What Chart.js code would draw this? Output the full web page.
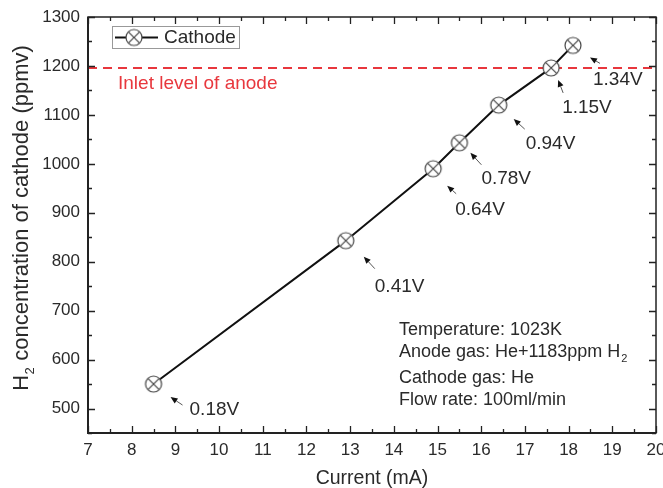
<!DOCTYPE html>
<html><head><meta charset="utf-8">
<script src="https://cdn.jsdelivr.net/npm/chart.js@4/dist/chart.umd.min.js"></script>
<style>html,body{margin:0;padding:0;background:#fff}canvas{display:block}</style>
</head><body>
<canvas id="c" width="663" height="488"></canvas>
<script>
// ---- data ----
const currents = [8.5, 12.9, 14.9, 15.5, 16.4, 17.6, 18.1];
const concentrations = [550, 843, 990, 1043, 1120, 1196, 1242];
const voltageLabels = ['0.18V', '0.41V', '0.64V', '0.78V', '0.94V', '1.15V', '1.34V'];
const xTicks = [7, 8, 9, 10, 11, 12, 13, 14, 15, 16, 17, 18, 19, 20];
const yTicks = [500, 600, 700, 800, 900, 1000, 1100, 1200, 1300];
const inletLevel = 1196;
const seriesName = 'Cathode';
const inletText = 'Inlet level of anode';
const xTitle = 'Current (mA)';
const yTitleMain = 'H';
const yTitleSub = '2';
const yTitleRest = ' concentration of cathode (ppmv)';
const infoLines = [
  ['Temperature: 1023K', ''],
  ['Anode gas: He+1183ppm H', '2'],
  ['Cathode gas: He', ''],
  ['Flow rate: 100ml/min', '']
];

// ---- annotation layout (pixel offsets from each marker) ----
const arrowLayout = [
  {tip:[17,13], tail:[29,21], text:[36,26]},
  {tip:[18,16], tail:[29,28], text:[29,46]},
  {tip:[14,17], tail:[23,25], text:[22,41]},
  {tip:[11,10], tail:[22,22], text:[22,36]},
  {tip:[15,14], tail:[26,24], text:[27,39]},
  {tip:[7,12],  tail:[12,25], text:[11,40]},
  {tip:[17,12], tail:[27,18], text:[20,34]}
];

const FONT = "'Liberation Sans', Arial, Helvetica, sans-serif";
const TXT = '#2a2a2a';
const RED = '#e8373d';

// marker: circle with an X
function makeMarker() {
  const c = document.createElement('canvas');
  c.width = 20; c.height = 20;
  const g = c.getContext('2d');
  const r = 8, cx = 10, cy = 10, d = r * Math.SQRT1_2;
  g.fillStyle = '#fff';
  g.beginPath(); g.arc(cx, cy, r, 0, Math.PI * 2); g.fill();
  g.strokeStyle = '#444'; g.lineWidth = 1.2;
  g.beginPath(); g.arc(cx, cy, r, 0, Math.PI * 2); g.stroke();
  g.beginPath();
  g.moveTo(cx - d, cy - d); g.lineTo(cx + d, cy + d);
  g.moveTo(cx + d, cy - d); g.lineTo(cx - d, cy + d);
  g.stroke();
  return c;
}
const marker = makeMarker();

const decorPlugin = {
  id: 'decor',
  beforeDatasetsDraw(chart) {
    const {ctx, chartArea: a, scales: {y}} = chart;
    const yy = y.getPixelForValue(inletLevel);
    ctx.save();
    ctx.strokeStyle = RED; ctx.lineWidth = 2; ctx.setLineDash([9, 6]);
    ctx.beginPath(); ctx.moveTo(a.left, yy); ctx.lineTo(a.right, yy); ctx.stroke();
    ctx.restore();
  },
  afterDatasetsDraw(chart) {
    const {ctx, chartArea: a, scales: {x, y}} = chart;
    ctx.save();
    // frame
    ctx.strokeStyle = '#222';
    ctx.lineWidth = 1.5;
    ctx.strokeRect(a.left, a.top, a.right - a.left, a.bottom - a.top);
    ctx.lineWidth = 2;
    ctx.beginPath();
    ctx.moveTo(a.left, a.top); ctx.lineTo(a.left, a.bottom); ctx.lineTo(a.right, a.bottom);
    ctx.stroke();
    // ticks (inward, all four sides)
    ctx.lineWidth = 1.3;
    ctx.beginPath();
    for (let v = xTicks[0]; v <= xTicks[xTicks.length - 1] + 1e-9; v += 0.5) {
      const px = Math.round(x.getPixelForValue(v)) + 0.5;
      const major = Math.abs(v - Math.round(v)) < 1e-9;
      const L = major ? 7 : 4;
      ctx.moveTo(px, a.bottom); ctx.lineTo(px, a.bottom - L);
      ctx.moveTo(px, a.top); ctx.lineTo(px, a.top + L);
    }
    for (let v = 450; v <= 1300; v += 50) {
      const py = Math.round(y.getPixelForValue(v)) + 0.5;
      const major = v % 100 === 0;
      const L = major ? 7 : 4;
      ctx.moveTo(a.left, py); ctx.lineTo(a.left + L, py);
      ctx.moveTo(a.right, py); ctx.lineTo(a.right - L, py);
    }
    ctx.stroke();

    // voltage annotations with arrows
    ctx.font = '19px ' + FONT;
    ctx.textBaseline = 'middle';
    ctx.textAlign = 'left';
    currents.forEach((cv, i) => {
      const mx = x.getPixelForValue(cv), my = y.getPixelForValue(concentrations[i]);
      const L = arrowLayout[i];
      const tx = mx + L.tip[0], ty = my + L.tip[1];
      const sx = mx + L.tail[0], sy = my + L.tail[1];
      const ang = Math.atan2(ty - sy, tx - sx);
      const hl = 7, hw = 3;
      const bx = tx - hl * Math.cos(ang), by = ty - hl * Math.sin(ang);
      ctx.strokeStyle = '#555'; ctx.lineWidth = 1;
      ctx.beginPath(); ctx.moveTo(sx, sy); ctx.lineTo(bx, by); ctx.stroke();
      ctx.fillStyle = '#111';
      ctx.beginPath();
      ctx.moveTo(tx, ty);
      ctx.lineTo(bx + hw * Math.sin(ang), by - hw * Math.cos(ang));
      ctx.lineTo(bx - hw * Math.sin(ang), by + hw * Math.cos(ang));
      ctx.closePath(); ctx.fill();
      ctx.fillStyle = TXT;
      ctx.fillText(voltageLabels[i], mx + L.text[0], my + L.text[1]);
    });

    // inlet text
    ctx.fillStyle = RED;
    ctx.font = '19px ' + FONT;
    ctx.fillText(inletText, a.left + 30, y.getPixelForValue(inletLevel) + 16);

    // legend box
    const lx = a.left + 24, ly = a.top + 9, lw = 127, lh = 22;
    ctx.strokeStyle = '#999'; ctx.lineWidth = 1;
    ctx.fillStyle = '#fff';
    ctx.fillRect(lx, ly, lw, lh);
    ctx.strokeRect(lx + 0.5, ly + 0.5, lw, lh);
    const cy = ly + lh / 2 + 0.5;
    ctx.strokeStyle = '#111'; ctx.lineWidth = 2;
    ctx.beginPath(); ctx.moveTo(lx + 3, cy); ctx.lineTo(lx + 46, cy); ctx.stroke();
    ctx.drawImage(marker, lx + 22 - 10, cy - 10);
    ctx.fillStyle = TXT;
    ctx.font = '19px ' + FONT;
    ctx.fillText(seriesName, lx + 52, cy);

    // info block
    const infoY = [330, 352, 378, 400];
    infoLines.forEach((ln, i) => {
      ctx.font = '18px ' + FONT;
      ctx.fillText(ln[0], 399, infoY[i]);
      if (ln[1]) {
        const w = ctx.measureText(ln[0]).width;
        ctx.font = '11px ' + FONT;
        ctx.fillText(ln[1], 399 + w + 1, infoY[i] + 7);
      }
    });

    // x title
    ctx.font = '19.5px ' + FONT;
    ctx.textAlign = 'center';
    ctx.fillText(xTitle, (a.left + a.right) / 2, 479);

    // y title (rotated, with subscript)
    ctx.textAlign = 'left';
    const big = '22px ' + FONT, small = '13px ' + FONT;
    ctx.font = big; const w1 = ctx.measureText(yTitleMain).width;
    const w3 = ctx.measureText(yTitleRest).width;
    ctx.font = small; const w2 = ctx.measureText(yTitleSub).width;
    const total = w1 + w2 + 1 + w3;
    ctx.translate(22, 218);
    ctx.rotate(-Math.PI / 2);
    const sx0 = -total / 2;
    ctx.font = big; ctx.fillText(yTitleMain, sx0, 0);
    ctx.font = small; ctx.fillText(yTitleSub, sx0 + w1 + 0.5, 8);
    ctx.font = big; ctx.fillText(yTitleRest, sx0 + w1 + w2 + 1, 0);
    ctx.restore();
  }
};

new Chart(document.getElementById('c'), {
  type: 'line',
  data: {
    datasets: [{
      label: seriesName,
      data: currents.map((cv, i) => ({x: cv, y: concentrations[i]})),
      borderColor: '#111',
      borderWidth: 2,
      pointStyle: marker,
      pointRadius: 8,
      tension: 0,
      fill: false
    }]
  },
  options: {
    responsive: false,
    animation: false,
    layout: {autoPadding: false, padding: {left: 0, right: 7, top: 17, bottom: 0}},
    plugins: {legend: {display: false}, tooltip: {enabled: false}},
    scales: {
      x: {
        type: 'linear', min: xTicks[0], max: xTicks[xTicks.length - 1],
        afterFit: s => { s.height = 55; s.paddingLeft = 0; s.paddingRight = 0; },
        afterBuildTicks: s => { s.ticks = xTicks.map(v => ({value: v})); },
        grid: {display: false, drawTicks: false},
        border: {display: false},
        ticks: {color: TXT, font: {size: 17, family: FONT}, padding: 7, maxRotation: 0, autoSkip: false,
                callback: v => String(v)}
      },
      y: {
        type: 'linear', min: 450, max: 1300,
        afterFit: s => { s.width = 88; s.paddingTop = 0; s.paddingBottom = 0; },
        afterBuildTicks: s => { s.ticks = yTicks.map(v => ({value: v})); },
        grid: {display: false, drawTicks: false},
        border: {display: false},
        ticks: {color: TXT, font: {size: 17, family: FONT}, padding: 8, autoSkip: false,
                callback: v => String(v)}
      }
    }
  },
  plugins: [decorPlugin]
});
</script>
</body></html>
